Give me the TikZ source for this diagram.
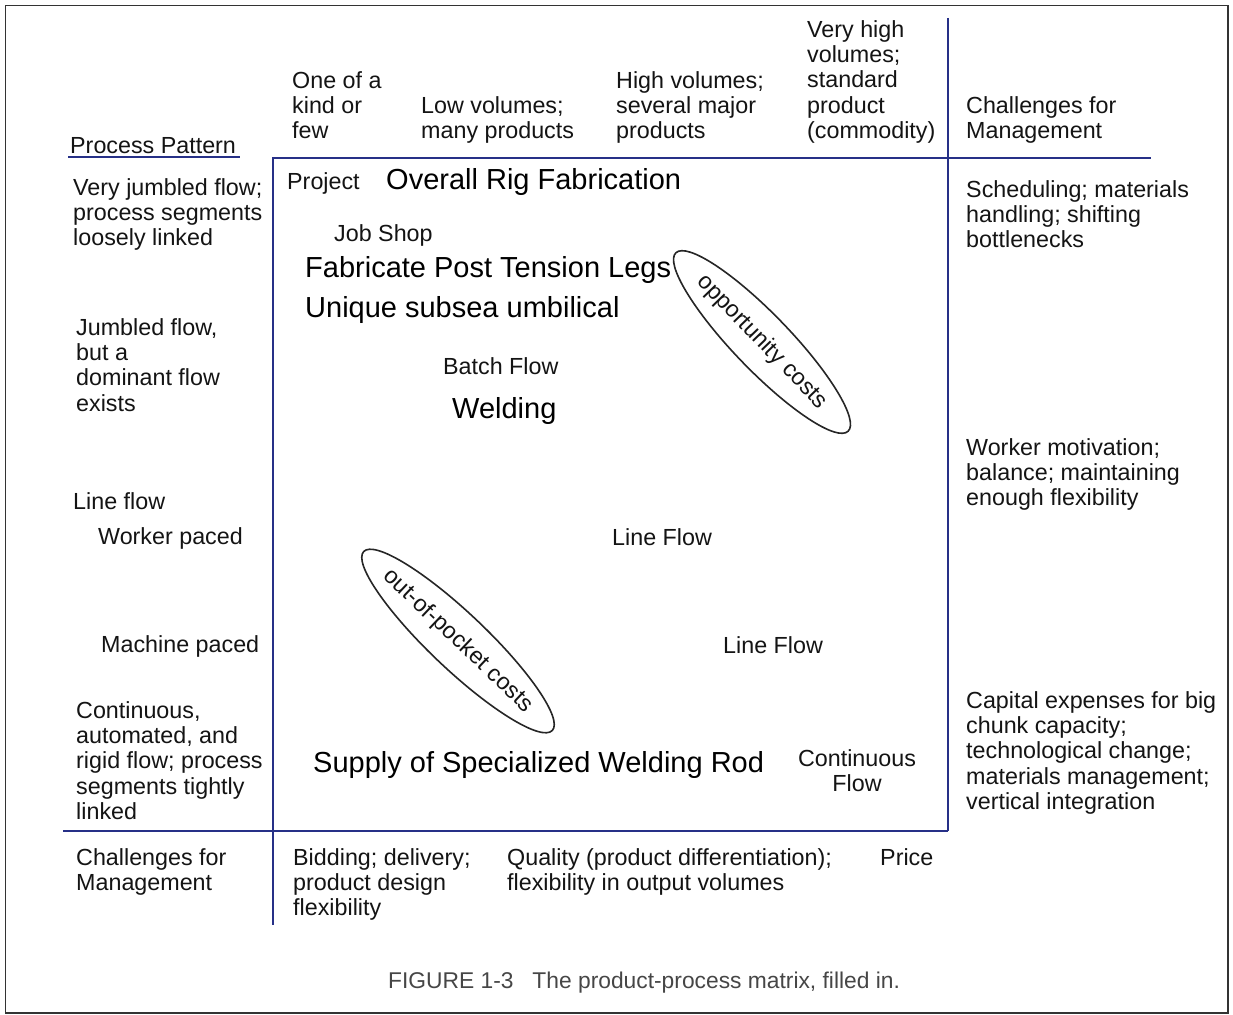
\documentclass[tikz,border=0pt]{standalone}
\usepackage{fontspec}
\setmainfont{Liberation Sans}
\usetikzlibrary{shapes.geometric}

\definecolor{gridblue}{RGB}{38,48,135}
\definecolor{booktext}{RGB}{20,20,20}
\definecolor{captiongray}{RGB}{70,70,70}

% first-line strut so multi-line labels can be placed by their top edge
\newcommand\lnstrut{\rule{0pt}{17.5pt}}
\newcommand\booksize{\fontsize{23.3}{25.3}\selectfont}
\newcommand\bigsize{\fontsize{29}{32}\selectfont}
\newcommand\capsize{\fontsize{22.8}{25}\selectfont}

\begin{document}
\begin{tikzpicture}[x=1pt,y=-1pt,
  book/.style={font=\booksize, text=booktext, inner sep=0pt, align=left, anchor=north west},
  bookline/.style={font=\booksize, text=booktext, inner sep=0pt, anchor=base west},
  bigtext/.style={font=\bigsize, text=black, inner sep=0pt, anchor=base west},
  gridline/.style={draw=gridblue, line width=1.8pt},
  ovalline/.style={draw=black!85, line width=1.6pt},
  ovaltext/.style={font=\booksize, text=booktext, inner sep=0pt}]

\useasboundingbox (0,0) rectangle (1233,1014);
\fill[white] (0,0) rectangle (1233,1014);

% page frame
\draw[black!80, line width=1.5pt] (5.5,5.5) rectangle (1228,1013);

% matrix rules
\coordinate (ppL) at (68,157);
\coordinate (ppR) at (240,157);
\coordinate (topL) at (272,158);
\coordinate (topR) at (1151,158);
\coordinate (leftT) at (273,158);
\coordinate (leftB) at (273,925);
\coordinate (rightT) at (948,18);
\coordinate (rightB) at (948,831);
\coordinate (botL) at (63,831);

\draw[gridline] (ppL) -- (ppR);
\draw[gridline] (topL) -- (topR);
\draw[gridline] (leftT) -- (leftB);
\draw[gridline] (rightT) -- (rightB);
\draw[gridline] (botL) -- (rightB);

% column headings: product structure
\node[book] (colA) at (292,70.5) {\lnstrut One of a\\kind or\\few};
\node[book] (colB) at (421,95.5) {\lnstrut Low volumes;\\many products};
\node[book] (colC) at (616,70.5) {\lnstrut High volumes;\\several major\\products};
\node[book] (colD) at (807,19.5) {\lnstrut Very high\\volumes;\\standard\\product\\(commodity)};
\node[book] (colE) at (966,95.5) {\lnstrut Challenges for\\Management};

% row headings: process pattern
\node[bookline] (pp) at (70,153) {Process Pattern};
\node[book] (rowA) at (73,177.5) {\lnstrut Very jumbled flow;\\process segments\\loosely linked};
\node[book] (rowB) at (76,317.5) {\lnstrut Jumbled flow,\\but a\\dominant flow\\exists};
\node[bookline] (rowC) at (73,509) {Line flow};
\node[bookline] (rowCa) at (98,544) {Worker paced};
\node[bookline] (rowCb) at (101,652) {Machine paced};
\node[book] (rowD) at (76,700.5) {\lnstrut Continuous,\\automated, and\\rigid flow; process\\segments tightly\\linked};
\node[book] (rowE) at (76,847.5) {\lnstrut Challenges for\\Management};

% bottom row: management challenges by product
\node[book] (botA) at (293,847.5) {\lnstrut Bidding; delivery;\\product design\\flexibility};
\node[book] (botB) at (507,847.5) {\lnstrut Quality (product differentiation);\\flexibility in output volumes};
\node[bookline] (botC) at (880,865) {Price};

% right column: management challenges by process
\node[book] (rightA) at (966,179.5) {\lnstrut Scheduling; materials\\handling; shifting\\bottlenecks};
\node[book] (rightBtxt) at (966,437.5) {\lnstrut Worker motivation;\\balance; maintaining\\enough flexibility};
\node[book] (rightC) at (966,690.5) {\lnstrut Capital expenses for big\\chunk capacity;\\technological change;\\materials management;\\vertical integration};

% process types along the diagonal
\node[bookline] (project) at (287,189) {Project};
\node[bookline] (jobshop) at (334,241) {Job Shop};
\node[bookline] (batch) at (443,374) {Batch Flow};
\node[bookline] (lineA) at (612,545) {Line Flow};
\node[bookline] (lineB) at (723,653) {Line Flow};
\node[font=\booksize, text=booktext, inner sep=0pt, align=center, anchor=north]
  (cont) at (857,748.5) {\lnstrut Continuous\\Flow};

% examples placed in the matrix
\node[bigtext] (rig) at (386,189) {Overall Rig Fabrication};
\node[bigtext] (legs) at (305,277) {Fabricate Post Tension Legs};
\node[bigtext] (umb) at (305,317) {Unique subsea umbilical};
\node[bigtext] (weld) at (452,418) {Welding};
\node[bigtext] (rod) at (313,772) {Supply of Specialized Welding Rod};

% off-diagonal cost regions
\node[ovaltext, rotate=-46] (opp) at (762,342) {opportunity costs};
\draw[ovalline, rotate around={-46:(opp.center)}] (opp.center) ellipse [x radius=124, y radius=28];
\node[ovaltext, rotate=-43.5] (oop) at (458,641) {out-of-pocket costs};
\draw[ovalline, rotate around={-43.5:(oop.center)}] (oop.center) ellipse [x radius=130, y radius=28];

% caption
\node[font=\capsize, text=captiongray, inner sep=0pt, anchor=base west] (cap) at (388,988)
  {FIGURE 1-3\hspace{0.55em} The product-process matrix, filled in.};
\end{tikzpicture}
\end{document}
